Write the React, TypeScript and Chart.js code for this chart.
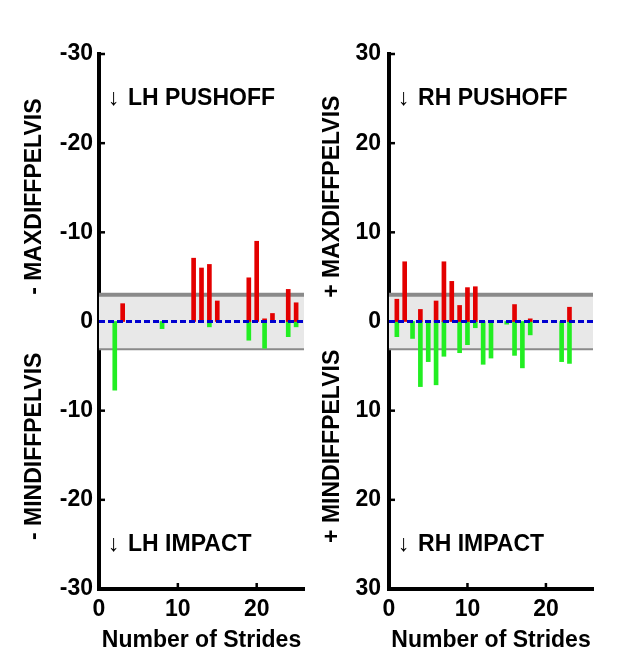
import React, { useEffect, useRef } from 'react';
import { Chart, registerables } from 'chart.js';

Chart.register(...registerables);

// ---------- data ----------
const STRIDE_MIN = 0;
const STRIDE_MAX = 26;
const Y_MIN = -30;
const Y_MAX = 30;
const Y_STEP = 10;
const X_STEP = 10;
const BAND_LIMIT = 3;

// Left hind limb (LH)
const leftMaxStrides = [3, 12, 13, 14, 15, 19, 20, 21, 22, 24, 25];
const leftMaxValues = [2.0, 7.1, 6.0, 6.4, 2.3, 4.9, 9.0, 0.3, 0.9, 3.6, 2.1];
const leftMinStrides = [2, 8, 14, 19, 21, 24, 25];
const leftMinValues = [7.7, 0.8, 0.6, 2.1, 3.0, 1.7, 0.6];

// Right hind limb (RH)
const rightMaxStrides = [1, 2, 4, 6, 7, 8, 9, 10, 11, 16, 18, 23];
const rightMaxValues = [2.5, 6.7, 1.35, 2.3, 6.7, 4.5, 1.8, 3.8, 3.9, 1.9, 0.3, 1.6];
const rightMinStrides = [1, 3, 4, 5, 6, 7, 9, 10, 11, 12, 13, 15, 16, 17, 18, 22, 23];
const rightMinValues = [1.7, 1.9, 7.3, 4.5, 7.1, 3.9, 3.5, 2.6, 0.7, 4.8, 4.1, 0.3, 3.8, 5.2, 1.5, 4.5, 4.7];

const leftTitles = ['- MAXDIFFPELVIS', '- MINDIFFPELVIS'];
const rightTitles = ['+ MAXDIFFPELVIS', '+ MINDIFFPELVIS'];
const leftEvents = ['LH PUSHOFF', 'LH IMPACT'];
const rightEvents = ['RH PUSHOFF', 'RH IMPACT'];
const xTitle = 'Number of Strides';
const arrowGlyph = '\u2193';

const FONT = '"Liberation Sans", Arial, sans-serif';
const FS = 23;

type PanelProps = {
  left: number;
  width: number;
  yWidth: number;
  padRight: number;
  tickPad: number;
  titleX: number;
  sign: 'minus' | 'plus';
  maxStrides: number[];
  maxValues: number[];
  minStrides: number[];
  minValues: number[];
  titles: string[];
  events: string[];
};

function Panel(p: PanelProps) {
  const ref = useRef<HTMLCanvasElement | null>(null);

  useEffect(() => {
    if (!ref.current) return;

    const decor = {
      id: 'decor',
      afterDraw(chart: any) {
        const { ctx, chartArea } = chart;
        const xs = chart.scales.x;
        const ys = chart.scales.y;
        ctx.save();
        // inward tick marks
        ctx.strokeStyle = '#000';
        ctx.lineWidth = 2.5;
        ys.ticks.forEach((t: any) => {
          if (t.value === 0) return;
          const py = ys.getPixelForValue(t.value);
          ctx.beginPath();
          ctx.moveTo(chartArea.left, py);
          ctx.lineTo(chartArea.left + 6, py);
          ctx.stroke();
        });
        xs.ticks.forEach((t: any) => {
          if (t.value === 0) return;
          const px = xs.getPixelForValue(t.value);
          ctx.beginPath();
          ctx.moveTo(px, chartArea.bottom);
          ctx.lineTo(px, chartArea.bottom - 6);
          ctx.stroke();
        });

        ctx.fillStyle = '#000';
        // rotated y titles
        ctx.font = `bold ${FS}px ${FONT}`;
        ctx.textAlign = 'center';
        ctx.textBaseline = 'middle';
        const titleVals = [14, -14];
        p.titles.forEach((txt, i) => {
          ctx.save();
          ctx.translate(p.titleX, ys.getPixelForValue(titleVals[i]));
          ctx.rotate(-Math.PI / 2);
          ctx.fillText(txt, 0, 0);
          ctx.restore();
        });

        // event annotations
        const evVals = [25, -25];
        p.events.forEach((txt, i) => {
          const px = xs.getPixelForValue(1.15);
          const py = ys.getPixelForValue(evVals[i]);
          ctx.textAlign = 'left';
          ctx.textBaseline = 'middle';
          ctx.font = `normal ${FS}px ${FONT}`;
          ctx.fillText(arrowGlyph, px, py);
          ctx.font = `bold ${FS}px ${FONT}`;
          ctx.fillText(txt, px + 20, py);
        });

        // x title
        ctx.textAlign = 'center';
        ctx.textBaseline = 'alphabetic';
        ctx.font = `bold ${FS}px ${FONT}`;
        ctx.fillText(xTitle, (chartArea.left + chartArea.right) / 2, 647);
        ctx.restore();
      },
    };

    const chart = new Chart(ref.current, {
      type: 'bar',
      data: {
        datasets: [
          {
            type: 'line',
            data: [
              { x: STRIDE_MIN, y: BAND_LIMIT },
              { x: STRIDE_MAX, y: BAND_LIMIT },
            ],
            borderColor: '#8a8a8a',
            borderWidth: 4,
            pointRadius: 0,
            backgroundColor: '#e8e8e8',
            fill: { value: -BAND_LIMIT },
            order: 10,
          } as any,
          {
            type: 'line',
            data: [
              { x: STRIDE_MIN, y: -BAND_LIMIT },
              { x: STRIDE_MAX, y: -BAND_LIMIT },
            ],
            borderColor: '#8a8a8a',
            borderWidth: 4,
            pointRadius: 0,
            fill: false,
            order: 10,
          } as any,
          {
            type: 'bar',
            data: p.maxStrides.map((s, i) => ({ x: s, y: p.maxValues[i] })),
            backgroundColor: '#e30000',
            barThickness: 4,
            grouped: false,
            order: 5,
          } as any,
          {
            type: 'bar',
            data: p.minStrides.map((s, i) => ({ x: s, y: -p.minValues[i] })),
            backgroundColor: '#22ee22',
            barThickness: 4,
            grouped: false,
            order: 5,
          } as any,
          {
            type: 'line',
            data: [
              { x: STRIDE_MIN, y: 0 },
              { x: STRIDE_MAX, y: 0 },
            ],
            borderColor: '#0000d0',
            borderWidth: 3,
            borderDash: [6, 3],
            pointRadius: 0,
            fill: false,
            order: 1,
          } as any,
        ],
      },
      options: {
        responsive: false,
        animation: false,
        events: [],
        layout: {
          padding: { left: 0, right: p.padRight, top: 54, bottom: 0 },
          autoPadding: false,
        } as any,
        plugins: {
          legend: { display: false },
          tooltip: { enabled: false },
        },
        scales: {
          x: {
            type: 'linear',
            min: STRIDE_MIN,
            max: STRIDE_MAX,
            offset: false,
            grid: { display: false, drawTicks: false },
            border: { display: true, color: '#000', width: 4 },
            ticks: {
              stepSize: X_STEP,
              includeBounds: false,
              padding: 7,
              color: '#000',
              maxRotation: 0,
              autoSkip: false,
              font: { family: FONT, size: FS, weight: 'bold' },
            },
            afterFit: (s: any) => {
              s.height = 68;
            },
          } as any,
          y: {
            type: 'linear',
            min: Y_MIN,
            max: Y_MAX,
            grid: { display: false, drawTicks: false },
            border: { display: true, color: '#000', width: 4 },
            ticks: {
              stepSize: Y_STEP,
              padding: p.tickPad,
              color: '#000',
              font: { family: FONT, size: FS, weight: 'bold' },
              callback: (v: any) => {
                const n = Number(v);
                if (n === 0) return '0';
                return p.sign === 'minus' ? '-' + Math.abs(n) : String(Math.abs(n));
              },
            },
            afterFit: (s: any) => {
              s.width = p.yWidth;
            },
          } as any,
        },
      },
      plugins: [decor],
    });
    return () => chart.destroy();
  }, []);

  return (
    <canvas
      ref={ref}
      width={p.width}
      height={657}
      style={{ position: 'absolute', left: p.left, top: 0, width: p.width, height: 657 }}
    />
  );
}

export default function App() {
  return (
    <div
      style={{
        position: 'absolute',
        left: 0,
        top: 0,
        width: 640,
        height: 657,
        background: '#ffffff',
        overflow: 'hidden',
      }}
    >
      <Panel
        left={0}
        width={320}
        yWidth={99}
        padRight={16}
        tickPad={6}
        titleX={35}
        sign="minus"
        maxStrides={leftMaxStrides}
        maxValues={leftMaxValues}
        minStrides={leftMinStrides}
        minValues={leftMinValues}
        titles={leftTitles}
        events={leftEvents}
      />
      <Panel
        left={320}
        width={320}
        yWidth={69}
        padRight={47}
        tickPad={8}
        titleX={13}
        sign="plus"
        maxStrides={rightMaxStrides}
        maxValues={rightMaxValues}
        minStrides={rightMinStrides}
        minValues={rightMinValues}
        titles={rightTitles}
        events={rightEvents}
      />
    </div>
  );
}
